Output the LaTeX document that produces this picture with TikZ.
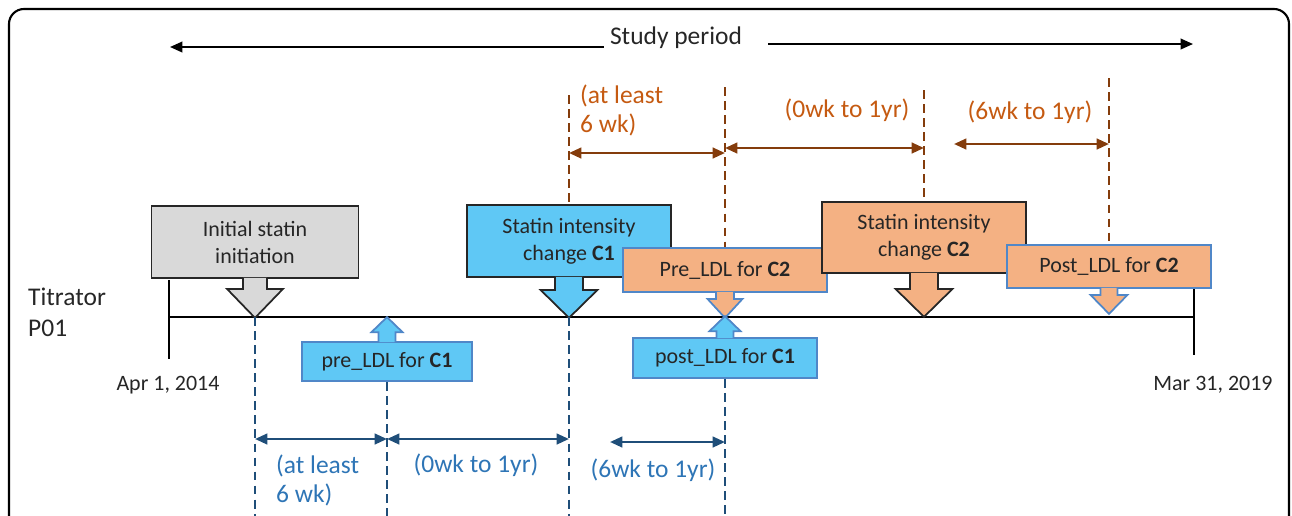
\documentclass[tikz,border=0pt]{standalone}
\usepackage{fontspec}
\setmainfont{Carlito}
\usetikzlibrary{arrows.meta,calc}
\definecolor{grayBox}{RGB}{217,217,217}
\definecolor{blueBox}{RGB}{95,200,245}
\definecolor{blueEdge}{RGB}{80,135,200}
\definecolor{orangeBox}{RGB}{244,177,131}
\definecolor{orangeText}{RGB}{197,90,17}
\definecolor{brownLine}{RGB}{132,60,12}
\definecolor{blueText}{RGB}{46,117,182}
\definecolor{navyLine}{RGB}{31,78,121}

\begin{document}
\begin{tikzpicture}[x=0.02cm,y=-0.02cm,font=\fontsize{12.5}{15.4}\selectfont,
  shp/.style={line width=1pt},
  gshp/.style={shp,draw=black!85,fill=grayBox},
  bshp/.style={shp,draw=black!85,fill=blueBox},
  bshpl/.style={shp,draw=blueEdge,fill=blueBox},
  oshp/.style={shp,draw=black!85,fill=orangeBox},
  oshpl/.style={shp,draw=blueEdge,fill=orangeBox},
  box/.style={rectangle,align=center,text=black!85,inner sep=2pt},
  lbl/.style={font=\fontsize{14.5}{16.5}\selectfont,align=left},
  dashO/.style={brownLine,line width=1.3pt,dash pattern=on 5pt off 3pt},
  dashB/.style={navyLine,line width=1.3pt,dash pattern=on 5pt off 3pt},
  dimO/.style={brownLine,line width=1.4pt,<->,>={Triangle[length=7pt,width=6pt]}},
  dimB/.style={navyLine,line width=1.4pt,<->,>={Triangle[length=7pt,width=6pt]}}]

  \useasboundingbox (0,0) rectangle (1292,515);
  \clip (0,0) rectangle (1292,515);

  % cadre
  \draw[line width=1.2pt,rounded corners=0.3cm] (9,9) rectangle (1289,560);

  % study period
  \node[lbl,text=black!85] (study) at (676,38) {Study period};
  \coordinate (sL) at (170,47);
  \coordinate (sR) at (1193,44);
  \draw[line width=1.1pt,-{Triangle[length=7pt,width=6pt]}] (study.west |- sL) -- (sL);
  \draw[line width=1.1pt,-{Triangle[length=7pt,width=6pt]}] ([xshift=0.4cm]study.east |- sR) -- (sR);

  % timeline
  \coordinate (t0) at (169,317);
  \coordinate (t1) at (1194,317);
  \draw[line width=1.3pt] (t0) -- (t1);
  \draw[line width=1.3pt] ($(t0)+(0,-37)$) -- ($(t0)+(0,42)$);
  \draw[line width=1.3pt] ($(t1)+(0,-28)$) -- ($(t1)+(0,38)$);
  \node[lbl,anchor=west,text=black!85,font=\fontsize{14.5}{17.5}\selectfont] (titr) at (22,312) {Titrator\\P01};
  \node[text=black!85] (dStart) at (168,385) {Apr 1, 2014};
  \node[text=black!85] (dEnd) at (1213,385) {Mar 31, 2019};

  % callouts
  \node[box,gshp,minimum width=4.14cm,minimum height=1.44cm] (init) at (255,242) {Initial statin\\initiation};
  \filldraw[gshp] ($(init.south)+(-12,-1)$) -- ++(0,11) -- ++(-16,0) -- ++(28,29) -- ++(28,-29) -- ++(-16,0) -- ++(0,-11);

  \node[box,bshpl,minimum width=3.4cm,minimum height=0.78cm] (preA) at (387,361.5) {pre\_LDL for \textbf{C1}};
  \filldraw[bshpl] ($(preA.north)+(-8.5,1)$) -- ++(0,-10) -- ++(-7,0) -- ++(15.5,-15) -- ++(15.5,15) -- ++(-7,0) -- ++(0,10);

  \node[box,bshp,minimum width=4.08cm,minimum height=1.44cm] (chgA) at (569,241) {Statin intensity\\change \textbf{C1}};
  \filldraw[bshp] ($(chgA.south)+(-14,-1)$) -- ++(0,13) -- ++(-14.5,0) -- ++(28.5,28) -- ++(28.5,-28) -- ++(-14.5,0) -- ++(0,-13);

  \node[box,oshpl,minimum width=4.08cm,minimum height=0.88cm] (preB) at (725,270) {Pre\_LDL for \textbf{C2}};
  \filldraw[oshpl] ($(preB.south)+(-9,-1)$) -- ++(0,7) -- ++(-8.5,0) -- ++(17.5,19) -- ++(17.5,-19) -- ++(-8.5,0) -- ++(0,-7);

  \node[box,bshpl,minimum width=3.68cm,minimum height=0.8cm] (postA) at (725,358) {post\_LDL for \textbf{C1}};
  \filldraw[bshpl] ($(postA.north)+(-8.5,1)$) -- ++(0,-7) -- ++(-7,0) -- ++(15.5,-15) -- ++(15.5,15) -- ++(-7,0) -- ++(0,7);

  \node[box,oshp,minimum width=4.08cm,minimum height=1.42cm] (chgB) at (924,237.5) {Statin intensity\\change \textbf{C2}};
  \filldraw[oshp] ($(chgB.south)+(-14,-1)$) -- ++(0,16) -- ++(-14.5,0) -- ++(28.5,28) -- ++(28.5,-28) -- ++(-14.5,0) -- ++(0,-16);

  \node[box,oshpl,minimum width=4.08cm,minimum height=0.86cm] (postB) at (1109,266.5) {Post\_LDL for \textbf{C2}};
  \filldraw[oshpl] ($(postB.south)+(-8.5,-1)$) -- ++(0,7) -- ++(-10,0) -- ++(18.5,19) -- ++(18.5,-19) -- ++(-10,0) -- ++(0,-7);

  % lignes orange
  \coordinate (topA) at (0,95);
  \coordinate (topB) at (0,87);
  \coordinate (topC) at (0,90);
  \coordinate (topD) at (0,78);
  \draw[dashO] (chgA.north |- topA) -- (chgA.north);
  \draw[dashO] (preB.north |- topB) -- (preB.north);
  \draw[dashO] (chgB.north |- topC) -- (chgB.north);
  \draw[dashO] (postB.north |- topD) -- (postB.north);

  \coordinate (lvA) at (0,153);
  \coordinate (lvC) at (0,148);
  \coordinate (fO) at (954,144);
  \draw[dimO] (chgA.north |- lvA) -- (preB.north |- lvA);
  \draw[dimO] (preB.north |- lvC) -- (chgB.north |- lvC);
  \draw[dimO] (fO) -- (postB.north |- fO);

  \node[lbl,text=orangeText,anchor=west] (oL1) at (574,110) {(at least\\6 wk)};
  \node[lbl,text=orangeText] (oL2) at (847,110) {(0wk to 1yr)};
  \node[lbl,text=orangeText] (oL3) at (1030,112) {(6wk to 1yr)};

  % lignes bleues
  \coordinate (bot) at (0,520);
  \draw[dashB] (init.south |- t0) -- (init.south |- bot);
  \draw[dashB] (preA.south) -- (preA.south |- bot);
  \draw[dashB] (chgA.south |- t0) -- (chgA.south |- bot);
  \draw[dashB] (postA.south) -- (postA.south |- bot);

  \coordinate (lvB) at (0,439);
  \coordinate (fB) at (610,442);
  \draw[dimB] (init.south |- lvB) -- (preA.south |- lvB);
  \draw[dimB] (preA.south |- lvB) -- (chgA.south |- lvB);
  \draw[dimB] (fB) -- (postA.south |- fB);

  \node[lbl,text=blueText,anchor=west] (bL1) at (270,480) {(at least\\6 wk)};
  \node[lbl,text=blueText] (bL2) at (476,465) {(0wk to 1yr)};
  \node[lbl,text=blueText] (bL3) at (653,470) {(6wk to 1yr)};
\end{tikzpicture}
\end{document}
